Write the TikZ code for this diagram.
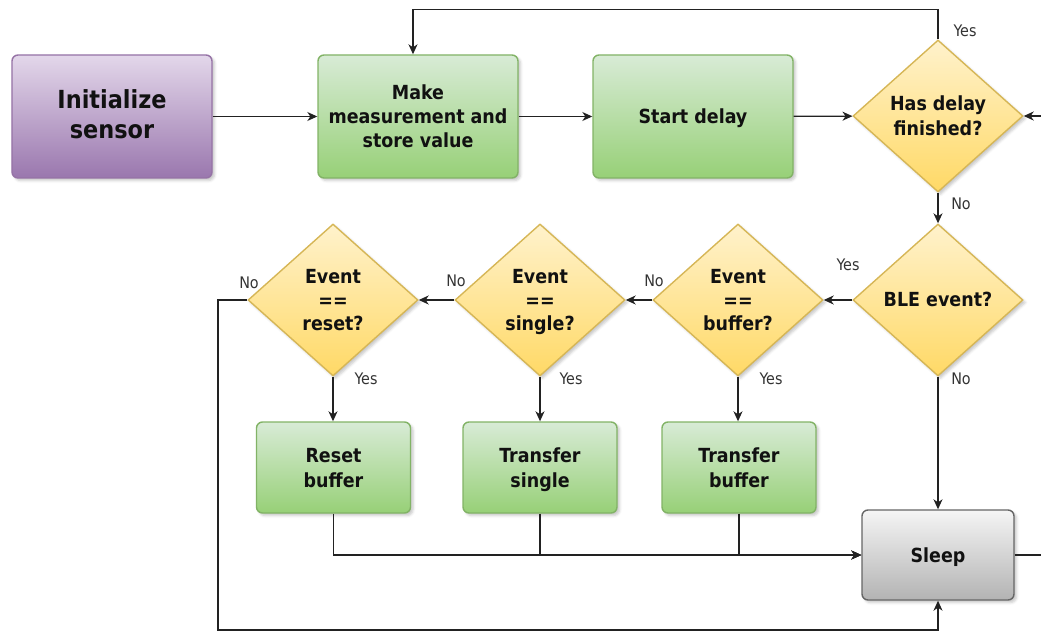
\documentclass[tikz,border=0pt]{standalone}
\usepackage{fontspec}
\setmainfont{DejaVu Sans Condensed}
\usetikzlibrary{shapes.geometric,arrows.meta,shadows.blur}

\definecolor{linec}{HTML}{222222}
\definecolor{labc}{HTML}{333333}
\definecolor{txtc}{HTML}{111111}
\definecolor{grnT}{HTML}{D8EBD6}
\definecolor{grnB}{HTML}{97D077}
\definecolor{grnD}{HTML}{82B366}
\definecolor{purT}{HTML}{E3D7EA}
\definecolor{purB}{HTML}{9A77AE}
\definecolor{purD}{HTML}{9673A6}
\definecolor{ylwT}{HTML}{FFF2CC}
\definecolor{ylwB}{HTML}{FFD966}
\definecolor{ylwD}{HTML}{D6B656}
\definecolor{gryT}{HTML}{F5F5F5}
\definecolor{gryB}{HTML}{B3B3B3}
\definecolor{gryD}{HTML}{666666}

% fixed line height and depth (24bp in all, the line pitch) so every
% label sits at the same optical centre
\newcommand\tstr{\rule[-5bp]{0pt}{24bp}}

\tikzset{
  shade base/.style={line width=1.4bp,
    blur shadow={shadow xshift=2.5bp, shadow yshift=-2.5bp,
                 shadow blur radius=2.5bp, shadow opacity=22}},
  boxtext/.style={align=center, text=txtc,
    font=\bfseries\fontsize{19.5}{24}\selectfont},
  procbox/.style={shade base, boxtext, rectangle, rounded corners=6bp,
    draw=grnD, top color=grnT, bottom color=grnB},
  toprow/.style={minimum width=200bp, minimum height=123bp},
  lowrow/.style={minimum width=154bp, minimum height=91bp},
  initbox/.style={shade base, rectangle, rounded corners=6bp, align=center,
    text=txtc, font=\bfseries\fontsize{25}{31}\selectfont,
    draw=purD, top color=purT, bottom color=purB, toprow},
  sleepbox/.style={shade base, boxtext, rectangle, rounded corners=6bp,
    draw=gryD, top color=gryT, bottom color=gryB,
    minimum width=152bp, minimum height=90bp},
  decision/.style={shade base, diamond, inner sep=0pt,
    minimum width=170bp, minimum height=152bp,
    draw=ylwD, top color=ylwT, bottom color=ylwB},
  dtext/.style={boxtext, inner sep=0pt},
  conn/.style={line width=1.3bp, draw=linec,
    -{Stealth[length=10bp, width=9bp, inset=3bp]}},
  plain/.style={line width=1.3bp, draw=linec},
  lbl/.style={font=\fontsize{16}{18}\selectfont, text=labc, inner sep=0pt}
}

\begin{document}
\begin{tikzpicture}[x=1bp, y=-1bp]
\useasboundingbox (0,0) rectangle (1041,632);

% top row
\node[initbox] (init) at (112,116.5) {\tstr Initialize\\sensor\tstr};
\node[procbox, toprow] (meas) at (418,116.5) {\tstr Make\\measurement and\\store value\tstr};
\node[procbox, toprow] (delay) at (693,116.5) {\tstr Start delay\tstr};
\node[decision] (hasdelay) at (938,116) {};
\node[dtext] (hasdelayt) at (hasdelay) {\tstr Has delay\\finished?\tstr};

% event decisions
\node[decision] (ble) at (938,300) {};
\node[dtext] (blet) at (ble) {\tstr BLE event?\tstr};
\node[decision] (evbuf) at (738,300) {};
\node[dtext] (evbuft) at (evbuf) {\tstr Event\\==\\buffer?\tstr};
\node[decision] (evsing) at (540,300) {};
\node[dtext] (evsingt) at (evsing) {\tstr Event\\==\\single?\tstr};
\node[decision] (evreset) at (333,300) {};
\node[dtext] (evresett) at (evreset) {\tstr Event\\==\\reset?\tstr};

% actions
\node[procbox, lowrow] (tbuf) at (739,467.5) {\tstr Transfer\\buffer\tstr};
\node[procbox, lowrow] (tsing) at (540,467.5) {\tstr Transfer\\single\tstr};
\node[procbox, lowrow] (rbuf) at (333.5,467.5) {\tstr Reset\\buffer\tstr};
\node[sleepbox] (sleep) at (938,555) {\tstr Sleep\tstr};

% loose ends at the picture border
\coordinate (rin) at (1041,116);
\coordinate (rout) at (1041,555);
\coordinate (loopc) at (218,630);

% connectors
\draw[conn] (init) -- (meas);
\draw[conn] (meas) -- (delay);
\draw[conn] (delay) -- (hasdelay);
\draw[conn] (rin) -- (hasdelay.east);
\draw[conn] (hasdelay.north) -- ++(0,-30) -| ([xshift=-5bp]meas.north);
\draw[conn] (hasdelay.south) -- (ble.north);
\draw[conn] (ble.west) -- (evbuf.east);
\draw[conn] (evbuf.west) -- (evsing.east);
\draw[conn] (evsing.west) -- (evreset.east);
\draw[conn] (evbuf.south) -- (evbuf.south |- tbuf.north);
\draw[conn] (evsing.south) -- (tsing.north);
\draw[conn] (evreset.south) -- (evreset.south |- rbuf.north);
\draw[conn] (tbuf.south) |- (sleep.west);
\draw[conn] (tsing.south) |- (sleep.west);
\draw[conn] (rbuf.south) |- (sleep.west);
\draw[conn] (ble.south) -- (sleep.north);
\draw[conn] (evreset.west) -| (loopc) -| (sleep.south);
\draw[plain] (sleep.east) -- (rout);

% branch labels
\node[lbl] (l1) at (965,31) {Yes};
\node[lbl] (l2) at (961,204) {No};
\node[lbl] (l3) at (848,265) {Yes};
\node[lbl] (l4) at (961,379) {No};
\node[lbl] (l5) at (654,281) {No};
\node[lbl] (l6) at (456,281) {No};
\node[lbl] (l7) at (249,283) {No};
\node[lbl] (l8) at (771,379) {Yes};
\node[lbl] (l9) at (571,379) {Yes};
\node[lbl] (l10) at (366,379) {Yes};
\end{tikzpicture}
\end{document}
